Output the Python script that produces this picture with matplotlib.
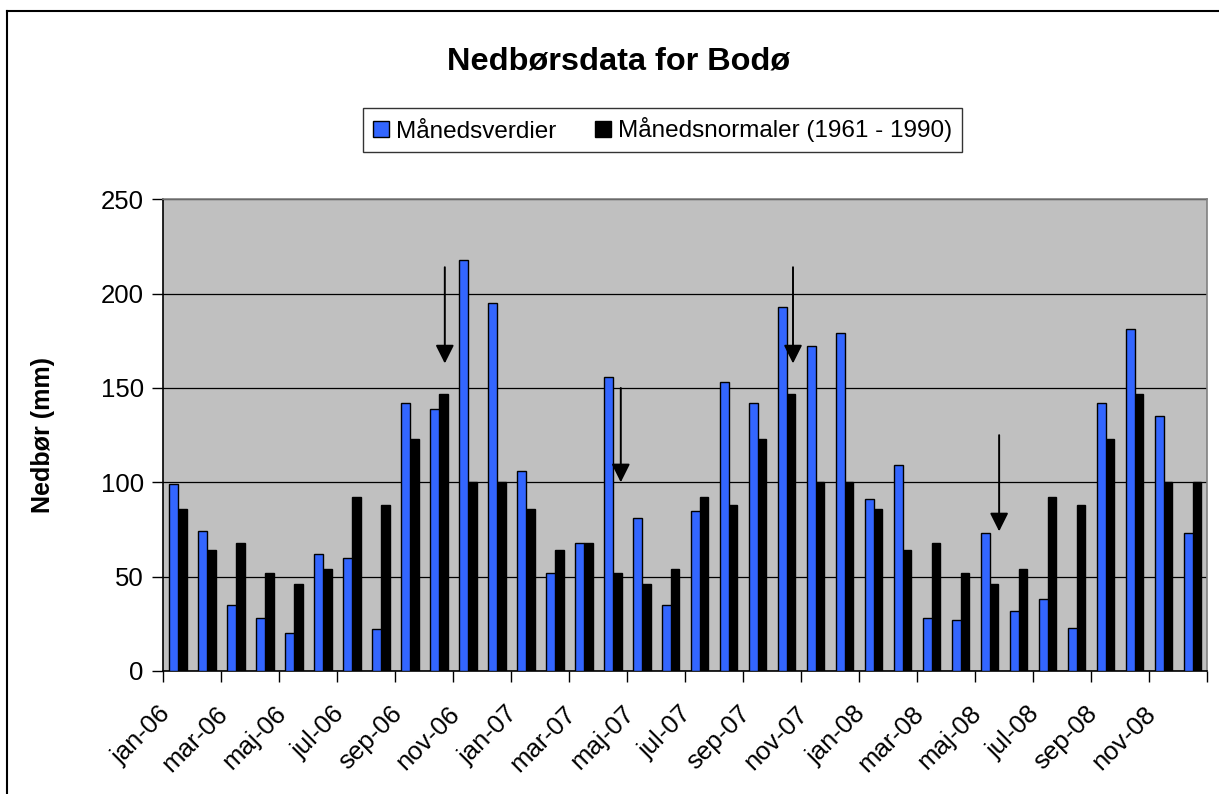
import matplotlib
matplotlib.use("Agg")
import matplotlib.pyplot as plt
import matplotlib.transforms as mtransforms
from matplotlib.patches import Patch
from matplotlib.lines import Line2D
import numpy as np

plt.rcParams['font.family'] = ['Liberation Sans', 'DejaVu Sans']

# ---- data ----
month_names = ["jan", "feb", "mar", "apr", "maj", "jun",
               "jul", "aug", "sep", "okt", "nov", "dec"]
years = ["06", "07", "08"]
months = [f"{m}-{y}" for y in years for m in month_names]

maanedsverdier = [99, 74, 35, 28, 20, 62, 60, 22, 142, 139, 218, 195,
                  106, 52, 68, 156, 81, 35, 85, 153, 142, 193, 172, 179,
                  91, 109, 28, 27, 73, 32, 38, 23, 142, 181, 135, 73]
normal_year = [86, 64, 68, 52, 46, 54, 92, 88, 123, 147, 100, 100]
maanedsnormaler = normal_year * 3

# arrows: (x position in category units, tail value, tip value)
arrow_x = [9.21, 15.28, 21.22, 28.33]
arrow_tail = [214, 150, 214, 125]
arrow_tip = [163, 100, 163, 74]

title = "Nedbørsdata for Bodø"
ylabel = "Nedbør (mm)"
legend_labels = ["Månedsverdier", "Månedsnormaler (1961 - 1990)"]

# ---- figure ----
W, H = 1219, 794
fig = plt.figure(figsize=(W / 100, H / 100), dpi=100)
ax = fig.add_axes([163.3 / W, 1 - 671 / H, (1207 - 163.3) / W, (671 - 199.3) / H])

ax.set_facecolor("#C0C0C0")
x = np.arange(len(months))
bw = 0.30
ax.bar(x + 0.155, maanedsnormaler, width=bw, color="black", edgecolor="black",
       linewidth=1.0, zorder=3)
ax.bar(x - 0.145, maanedsverdier, width=bw, color="#3366FF", edgecolor="black",
       linewidth=1.0, zorder=4)

ax.set_xlim(-0.5, len(months) - 0.5)
ax.set_ylim(0, 250)
ax.set_yticks([0, 50, 100, 150, 200, 250])
ax.yaxis.grid(True, color="black", linewidth=0.9, zorder=1)
ax.set_axisbelow(True)
ax.tick_params(axis="y", direction="out", length=8, width=1, labelsize=18.5, pad=6)

# x ticks: marks at category boundaries every 2nd, labels on even categories
ax.set_xticks(np.arange(-0.5, len(months), 2), minor=True)
ax.set_xticks(x[::2])
ax.set_xticklabels(months[::2], rotation=45, ha="right", va="top",
                   rotation_mode="anchor")
ax.tick_params(axis="x", which="major", length=0, labelsize=18.5, pad=22)
ax.tick_params(axis="x", which="minor", direction="out", length=8, width=1)
shift = mtransforms.ScaledTranslation(-20 / 100, 0, fig.dpi_scale_trans)
for lab in ax.get_xticklabels():
    lab.set_transform(lab.get_transform() + shift)

for s in ["left", "bottom"]:
    ax.spines[s].set_color("black")
    ax.spines[s].set_linewidth(1.2)
for s in ["top", "right"]:
    ax.spines[s].set_color("#808080")
    ax.spines[s].set_linewidth(1.2)

ax.set_ylabel(ylabel, fontsize=18, fontweight="bold", labelpad=33)

for xa, yt, yh in zip(arrow_x, arrow_tail, arrow_tip):
    ax.annotate("", xy=(xa, yh), xytext=(xa, yt),
                arrowprops=dict(arrowstyle="-|>", mutation_scale=28, lw=1.4,
                                color="black", shrinkA=0, shrinkB=0),
                zorder=6)

fig.text(619 / W, 1 - 62 / H, title, ha="center", va="center",
         fontsize=23.4, fontweight="bold")

handles = [Patch(facecolor="#3366FF", edgecolor="black", linewidth=1),
           Patch(facecolor="black", edgecolor="black", linewidth=1)]
leg = fig.legend(handles, legend_labels, loc="center",
                 bbox_to_anchor=(662.5 / W, 1 - 130 / H), ncol=2, fontsize=17.5,
                 frameon=True, fancybox=False, edgecolor="black",
                 handlelength=0.65, handleheight=0.65, handletextpad=0.3,
                 columnspacing=1.6, borderpad=0.4, borderaxespad=0)
leg.get_frame().set_linewidth(1.0)

# outer chart border (left and top visible)
fig.add_artist(Line2D([7 / W, 7 / W], [0, 1 - 11 / H], transform=fig.transFigure,
                      color="black", linewidth=1.5))
fig.add_artist(Line2D([7 / W, 1], [1 - 11 / H, 1 - 11 / H], transform=fig.transFigure,
                      color="black", linewidth=1.5))

fig.savefig("out.png", dpi=100, facecolor="white")
